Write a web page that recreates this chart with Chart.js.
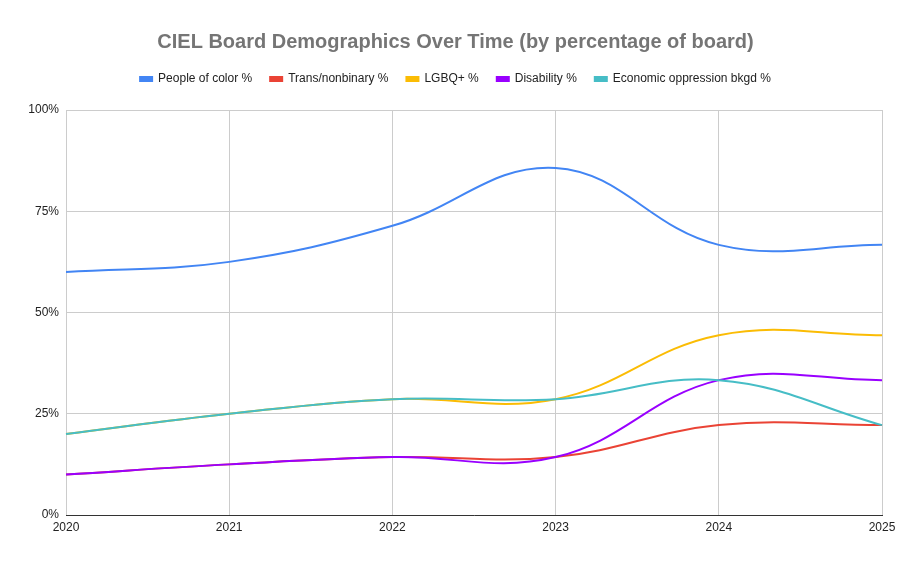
<!DOCTYPE html>
<html>
<head>
<meta charset="utf-8">
<script src="https://cdn.jsdelivr.net/npm/chart.js@4/dist/chart.umd.min.js"></script>
<style>
  html, body { margin: 0; padding: 0; background: #fff; }
  #wrap { width: 911px; height: 564px; }
</style>
</head>
<body>
<div id="wrap"><canvas id="demoChart"></canvas></div>
<script>
// Years on the x axis
const years = ['2020', '2021', '2022', '2023', '2024', '2025'];

// Percent of board
const peopleOfColor = [60, 62.5, 71.4, 85.7, 66.7, 66.7];
const transNonbinary = [10, 12.5, 14.3, 14.3, 22.2, 22.2];
const lgbq = [20, 25, 28.6, 28.6, 44.4, 44.4];
const disability = [10, 12.5, 14.3, 14.3, 33.3, 33.3];
const economicOppression = [20, 25, 28.6, 28.6, 33.3, 22.2];

const seriesNames = ['People of color %', 'Trans/nonbinary %', 'LGBQ+ %', 'Disability %', 'Economic oppression bkgd %'];
const seriesColors = ['#4285F4', '#EA4335', '#FBBC04', '#9900FF', '#46BDC6'];
const seriesData = [peopleOfColor, transNonbinary, lgbq, disability, economicOppression];

const yTicks = [0, 25, 50, 75, 100];

const font = 'Arial, "Liberation Sans", sans-serif';

// later series drawn on top, like the original
const datasets = seriesData.map(function(values, i) {
  return {
    label: seriesNames[i],
    data: values,
    borderColor: seriesColors[i],
    backgroundColor: seriesColors[i],
    borderWidth: 2,
    pointRadius: 0,
    tension: 0.4,
    fill: false,
    order: seriesData.length - 1 - i
  };
});

// extra gap under the legend, and center title + legend on the whole canvas
const headerFix = {
  id: 'headerFix',
  beforeInit(chart) {
    const origFit = chart.legend.fit;
    chart.legend.fit = function() {
      origFit.bind(chart.legend)();
      this.height += 15;
    };
  },
  beforeDraw(chart) {
    [chart.titleBlock, chart.legend].forEach(function(box) {
      box.left = 0;
      box.right = chart.width;
      box.width = chart.width;
    });
  }
};

new Chart(document.getElementById('demoChart'), {
  type: 'line',
  data: { labels: years, datasets: datasets },
  plugins: [headerFix],
  options: {
    responsive: true,
    maintainAspectRatio: false,
    animation: false,
    layout: { padding: { left: 0, right: 29, top: 0, bottom: 0 } },
    plugins: {
      title: {
        display: true,
        text: 'CIEL Board Demographics Over Time (by percentage of board)',
        color: '#757575',
        font: { family: font, size: 20, weight: 'bold' },
        padding: { top: 30, bottom: 1 }
      },
      legend: {
        display: true,
        position: 'top',
        reverse: true,
        labels: {
          color: '#222',
          font: { family: font, size: 12 },
          boxWidth: 12,
          boxHeight: 4,
          padding: 18
        }
      },
      tooltip: { enabled: false }
    },
    scales: {
      x: {
        type: 'category',
        offset: false,
        grid: { color: '#cccccc', drawTicks: false },
        border: { color: '#333333', width: 1 },
        ticks: { color: '#222', font: { family: font, size: 12 }, padding: 5, maxRotation: 0 },
        afterFit(scale) { scale.height = 49; }
      },
      y: {
        min: 0,
        max: 100,
        grid: { color: '#cccccc', drawTicks: false },
        border: { display: false },
        afterBuildTicks(scale) { scale.ticks = yTicks.map(function(v) { return { value: v }; }); },
        ticks: {
          color: '#222',
          font: { family: font, size: 12 },
          padding: 7,
          callback: function(v) { return v + '%'; }
        },
        afterFit(scale) { scale.width = 66; }
      }
    }
  }
});
</script>
</body>
</html>
